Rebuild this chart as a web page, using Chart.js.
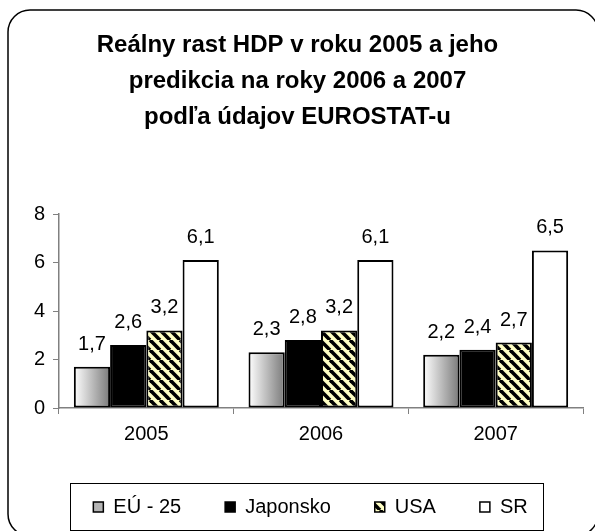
<!DOCTYPE html>
<html>
<head>
<meta charset="utf-8">
<script src="https://cdn.jsdelivr.net/npm/chart.js@4.4.1/dist/chart.umd.min.js"></script>
<style>
  html, body { margin: 0; padding: 0; background: #fff; }
  #wrap { width: 595px; height: 531px; }
</style>
</head>
<body>
<div id="wrap"><canvas id="gdpChart"></canvas></div>
<script>
const years = ['2005', '2006', '2007'];
const seriesNames = ['EÚ - 25', 'Japonsko', 'USA', 'SR'];
const euValues = [1.7, 2.3, 2.2];
const japanValues = [2.6, 2.8, 2.4];
const usaValues = [3.2, 3.2, 2.7];
const srValues = [6.1, 6.1, 6.5];
const yMin = 0, yMax = 8, yStep = 2;
const titleLines = ['Reálny rast HDP v roku 2005 a jeho', 'predikcia na roky 2006 a 2007', 'podľa údajov EUROSTAT-u'];

const FONT = '"Liberation Sans", Arial, sans-serif';
const canvas = document.getElementById('gdpChart');
const ctx = canvas.getContext('2d');

// diagonal black / pale yellow stripes for USA
function makeStripes() {
    const c = document.createElement('canvas');
    c.width = 10;
    c.height = 10;
    const g = c.getContext('2d');
    g.fillStyle = '#ffffc4';
    g.fillRect(0, 0, 10, 10);
    g.strokeStyle = '#000';
    g.lineWidth = 3.6;
    [-10, 0, 10].forEach(x => {
        g.beginPath();
        g.moveTo(x, 0);
        g.lineTo(x + 10, 10);
        g.stroke();
    });
    return ctx.createPattern(c, 'repeat');
}
const stripes = makeStripes();

// rounded outer frame
const frame = {
    id: 'frame',
    beforeDraw(chart) {
        const c = chart.ctx;
        c.save();
        c.fillStyle = '#fff';
        c.fillRect(0, 0, chart.width, chart.height);
        c.strokeStyle = '#000';
        c.lineWidth = 1.5;
        c.beginPath();
        c.roundRect(8, 10, 590, 526, 22);
        c.stroke();
        c.restore();
    }
};

// grey gradient on the EU bars
const euGradient = {
    id: 'euGradient',
    beforeDatasetsDraw(chart) {
        const c = chart.ctx;
        chart.getDatasetMeta(0).data.forEach(bar => {
            const g = c.createLinearGradient(bar.x - bar.width / 2, 0, bar.x + bar.width / 2, 0);
            g.addColorStop(0, '#ffffff');
            g.addColorStop(1, '#7a7a7a');
            bar.options = Object.assign({}, bar.options, {backgroundColor: g});
        });
    }
};

// value labels with decimal comma
const valueLabels = {
    id: 'valueLabels',
    afterDatasetsDraw(chart) {
        const c = chart.ctx;
        c.save();
        c.font = '20px ' + FONT;
        c.fillStyle = '#000';
        c.textAlign = 'center';
        c.textBaseline = 'alphabetic';
        chart.data.datasets.forEach((ds, i) => {
            chart.getDatasetMeta(i).data.forEach((bar, j) => {
                c.fillText(ds.data[j].toFixed(1).replace('.', ','), bar.x, bar.y - 17);
            });
        });
        c.restore();
    }
};

// move the legend into its framed strip and draw the frame
const legendBox = {
    id: 'legendBox',
    afterLayout(chart) {
        const lg = chart.legend;
        lg.left += 13;
        lg.right += 13;
        lg.top -= 30;
    },
    afterDraw(chart) {
        const lg = chart.legend;
        const pad = lg.options.labels.padding;
        const start = (lg.left + pad + lg.right - lg.lineWidths[0]) / 2;
        const end = start + lg.lineWidths[0] - pad;
        const mid = lg.top + pad + 10;
        const c = chart.ctx;
        c.save();
        c.strokeStyle = '#000';
        c.lineWidth = 1;
        c.strokeRect(Math.round(start - 23) + 0.5, Math.round(mid - 24) + 0.5, Math.round(end - start + 39), 47);
        c.restore();
    }
};

new Chart(canvas, {
    type: 'bar',
    data: {
        labels: years,
        datasets: [
            {label: seriesNames[0], data: euValues, backgroundColor: '#c0c0c0'},
            {label: seriesNames[1], data: japanValues, backgroundColor: '#000000'},
            {label: seriesNames[2], data: usaValues, backgroundColor: stripes},
            {label: seriesNames[3], data: srValues, backgroundColor: '#ffffff'}
        ]
    },
    options: {
        responsive: true,
        maintainAspectRatio: false,
        animation: false,
        events: [],
        datasets: {
            bar: {
                borderColor: '#000',
                borderWidth: 2,
                borderSkipped: false,
                categoryPercentage: 0.83,
                barPercentage: 1
            }
        },
        layout: {
            padding: {left: 12, right: 12, top: 0, bottom: 1}
        },
        plugins: {
            title: {
                display: true,
                text: titleLines,
                color: '#000',
                font: {family: FONT, size: 24, weight: 'bold', lineHeight: 36 / 24},
                padding: {top: 27, bottom: 79}
            },
            legend: {
                position: 'bottom',
                maxHeight: 47,
                labels: {
                    color: '#000',
                    font: {family: FONT, size: 20},
                    boxWidth: 10,
                    boxHeight: 10,
                    padding: 44,
                    generateLabels(chart) {
                        const items = Chart.defaults.plugins.legend.labels.generateLabels(chart);
                        items[0].fillStyle = '#b4b4b4';
                        items.forEach(it => { it.strokeStyle = '#000'; it.lineWidth = 1.5; });
                        return items;
                    }
                }
            },
            tooltip: {enabled: false}
        },
        scales: {
            x: {
                grid: {display: true, drawOnChartArea: false, tickLength: 6, color: '#808080', offset: true},
                border: {color: '#808080', width: 1.5},
                ticks: {color: '#000', font: {family: FONT, size: 20}, padding: 8},
                afterFit(scale) { scale.height = 75; }
            },
            y: {
                min: yMin,
                max: yMax,
                grid: {drawOnChartArea: false, tickLength: 6, color: '#808080'},
                border: {color: '#808080', width: 1.5},
                ticks: {stepSize: yStep, color: '#000', font: {family: FONT, size: 20}, padding: 8},
                afterFit(scale) { scale.width = 47; }
            }
        }
    },
    plugins: [frame, euGradient, valueLabels, legendBox]
});
</script>
</body>
</html>
